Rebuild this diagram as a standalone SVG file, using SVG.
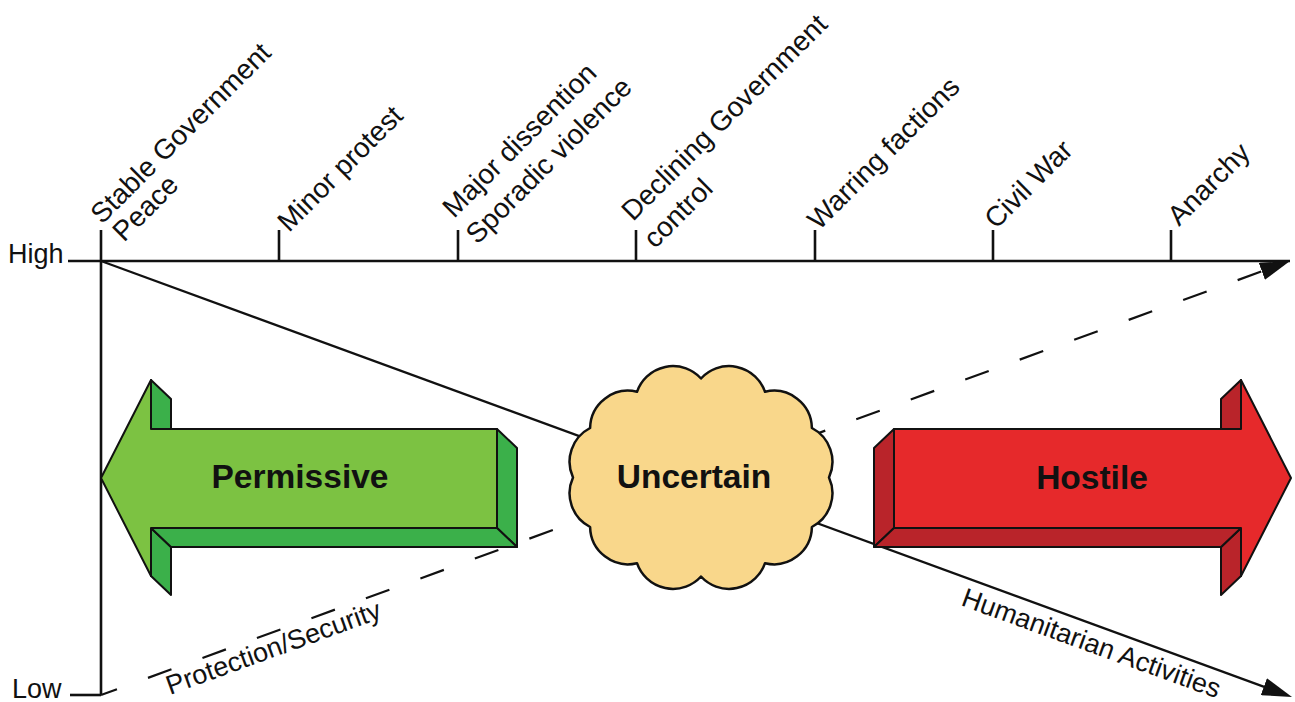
<svg xmlns="http://www.w3.org/2000/svg" width="1295" height="702" viewBox="0 0 1295 702">
  <style>
    .ax{stroke:#111;stroke-width:2.6;fill:none}
    .ln{stroke:#111;stroke-width:2.2;fill:none}
    .dash{stroke-dasharray:25 33;stroke-dashoffset:8}
    .lbl{font-family:"Liberation Sans",Arial,Helvetica,sans-serif;font-size:28px;fill:#111}
    .axl{font-family:"Liberation Sans",Arial,Helvetica,sans-serif;font-size:27px;fill:#111}
    .big{font-family:"Liberation Sans",Arial,Helvetica,sans-serif;font-weight:bold;font-size:33.5px;fill:#111;text-anchor:middle}
    .edge{stroke:#111;stroke-width:2;stroke-linejoin:round}
    .gf{fill:#7cc242}
    .gs{fill:#3bb04a}
    .rf{fill:#e6292b}
    .rs{fill:#b9242a}
    .cloud{fill:#f9d78b;stroke:#111;stroke-width:2.5;stroke-linejoin:round}
  </style>
  <defs>
    <marker id="head" viewBox="0 0 30 18" refX="4" refY="9" markerWidth="30" markerHeight="18" markerUnits="userSpaceOnUse" orient="auto">
      <path d="M0,0 L30,9 L0,18 Z" fill="#111"/>
    </marker>
  </defs>

  <rect width="1295" height="702" fill="#ffffff"/>

  <!-- axes, ticks and trend lines -->
  <g id="connectors">
    <line class="ax" x1="68" y1="261" x2="1290" y2="261"/>
    <line class="ax" x1="101" y1="230" x2="101" y2="695"/>
    <line class="ax" x1="70" y1="695" x2="101" y2="695"/>
    <line class="ax" x1="279" y1="230" x2="279" y2="261"/>
    <line class="ax" x1="458" y1="230" x2="458" y2="261"/>
    <line class="ax" x1="636" y1="230" x2="636" y2="261"/>
    <line class="ax" x1="815" y1="230" x2="815" y2="261"/>
    <line class="ax" x1="993" y1="230" x2="993" y2="261"/>
    <line class="ax" x1="1171" y1="230" x2="1171" y2="261"/>
    <!-- humanitarian activities trend -->
    <line class="ln" x1="101" y1="261" x2="1267.6" y2="688.1" marker-end="url(#head)"/>
    <!-- protection / security trend -->
    <line class="ln dash" x1="101" y1="695" x2="1265.6" y2="269.9" marker-end="url(#head)"/>
  </g>

  <!-- permissive: left-pointing extruded arrow -->
  <g id="permissive">
    <polygon class="gs edge" points="151,380 171,399 171,429 151,429"/>
    <polygon class="gs edge" points="151,528 171,547 171,595 151,576"/>
    <polygon class="gs edge" points="497,429 517,448 517,547 497,528"/>
    <polygon class="gs edge" points="151,528 497,528 517,547 171,547"/>
    <polygon class="gf edge" points="101,478 151,380 151,429 497,429 497,528 151,528 151,576"/>
    <text class="big" x="300" y="488">Permissive</text>
  </g>

  <!-- uncertain: cloud -->
  <g id="uncertain">
    <path class="cloud" d="M701,378.5 A38,38 0 0 1 765,391.8 A38,38 0 0 1 811.9,428 A38,38 0 0 1 829,477.5 A38,38 0 0 1 811.9,527 A38,38 0 0 1 765,563.2 A38,38 0 0 1 701,576.5 A38,38 0 0 1 637,563.2 A38,38 0 0 1 590.1,527 A38,38 0 0 1 573,477.5 A38,38 0 0 1 590.1,428 A38,38 0 0 1 637,391.8 A38,38 0 0 1 701,378.5 Z"/>
    <text class="big" x="694" y="488">Uncertain</text>
  </g>

  <!-- hostile: right-pointing extruded arrow -->
  <g id="hostile">
    <polygon class="rs edge" points="1241,380 1241,429 1221,429 1221,399"/>
    <polygon class="rs edge" points="1241,528 1241,576 1221,595 1221,547"/>
    <polygon class="rs edge" points="894,429 874,448 874,547 894,528"/>
    <polygon class="rs edge" points="894,528 1241,528 1221,547 874,547"/>
    <polygon class="rf edge" points="894,429 1241,429 1241,380 1291,478 1241,576 1241,528 894,528"/>
    <text class="big" x="1092" y="489">Hostile</text>
  </g>

  <!-- axis end labels -->
  <g id="axis-labels">
    <text class="axl" x="8" y="263">High</text>
    <text class="axl" x="12" y="698">Low</text>
  </g>

  <!-- stage labels along the top axis -->
  <g id="stages">
    <text class="lbl" transform="translate(102,225) rotate(-45)"><tspan x="0" y="0">Stable Government</tspan><tspan x="3" y="28">Peace</tspan></text>
    <text class="lbl" transform="translate(289,233) rotate(-45)">Minor protest</text>
    <text class="lbl" transform="translate(454,219) rotate(-45)"><tspan x="0" y="0">Major dissention</tspan><tspan x="-2" y="35">Sporadic violence</tspan></text>
    <text class="lbl" transform="translate(633,222) rotate(-45)"><tspan x="0" y="0">Declining Government</tspan><tspan x="-4" y="35">control</tspan></text>
    <text class="lbl" transform="translate(819,231) rotate(-45)">Warring factions</text>
    <text class="lbl" transform="translate(996,230) rotate(-45)">Civil War</text>
    <text class="lbl" transform="translate(1179,227) rotate(-45)">Anarchy</text>
  </g>

  <!-- trend line labels -->
  <g id="trend-labels">
    <text class="axl" transform="translate(170,695) rotate(-20)">Protection/Security</text>
    <text class="axl" transform="translate(960,605) rotate(20)">Humanitarian Activities</text>
  </g>
</svg>
